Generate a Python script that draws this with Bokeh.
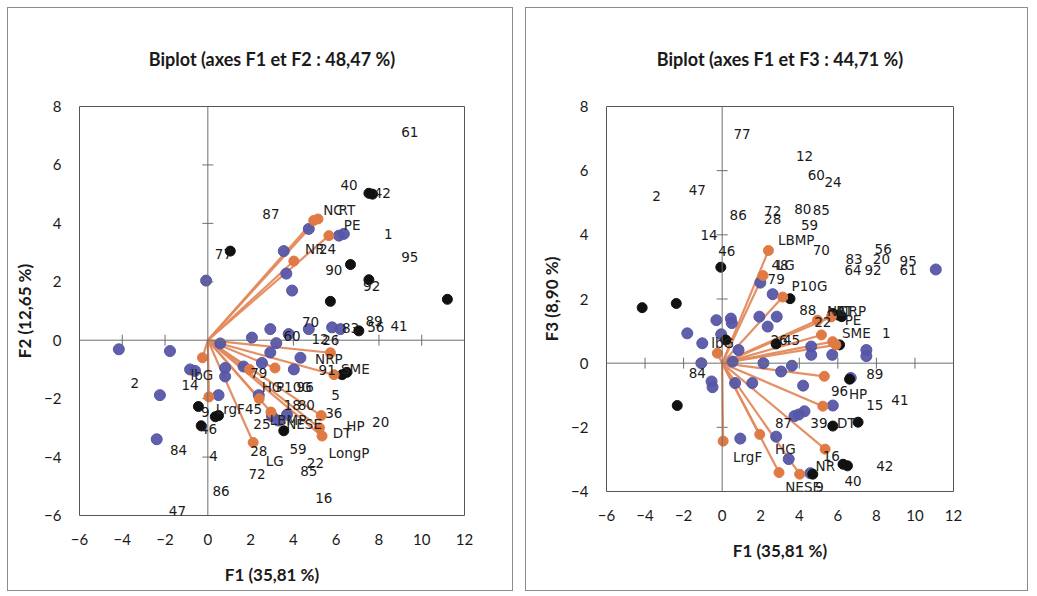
import math
from bokeh.plotting import figure
from bokeh.layouts import row
from bokeh.models import ColumnDataSource, FixedTicker, Range1d, LabelSet, Span
from bokeh.embed import file_html
from bokeh.resources import INLINE
from bokeh.core.properties import value

# ---------------- data ----------------
x_ticks = [-6, -4, -2, 0, 2, 4, 6, 8, 10, 12]
y_ticks_f2 = [-6, -4, -2, 0, 2, 4, 6, 8]
y_ticks_f3 = [-4, -2, 0, 2, 4, 6, 8]

# variables (arrows): coordinates on F1, F2, F3
var_names = ["NC", "RT", "PE", "NR", "NRP", "SME", "lbG", "LrgF", "LG", "LBMP",
             "P10G", "HG", "NESE", "HP", "DT", "LongP"]
var_f1 = [4.95, 5.15, 5.66, 4.02, 5.73, 5.90, -0.25, 0.05, 2.12, 2.40,
          3.14, 1.95, 2.95, 5.30, 5.22, 5.34]
var_f2 = [4.10, 4.15, 3.58, 2.71, -0.43, -1.18, -0.60, -1.94, -3.50, -2.00,
          -0.95, -1.00, -2.46, -2.58, -3.00, -3.28]
var_f3 = [1.34, 0.88, 1.44, -3.46, 0.67, 0.57, 0.31, -2.43, 2.73, 3.51,
          2.06, -2.22, -3.41, -0.41, -1.34, -2.68]
# where the variable names are printed
var_lbl12_x = [5.85, 6.50, 6.75, 5.00, 5.66, 6.90, -0.28, 1.05, 3.13, 3.75,
               4.02, 3.00, 4.50, 6.90, 6.28, 6.60]
var_lbl12_y = [4.45, 4.45, 3.96, 3.11, -0.66, -1.00, -1.18, -2.35, -4.12, -2.72,
               -1.59, -1.59, -2.87, -2.93, -3.16, -3.86]
var_lbl13_x = [5.95, 6.35, 6.79, 5.35, 6.75, 6.96, 0.02, 1.32, 3.30, 3.84,
               4.53, 3.28, 4.20, 7.05, 6.44, float("nan")]
var_lbl13_y = [1.62, 1.62, 1.35, -3.20, 1.62, 0.95, 0.64, -2.91, 3.07, 3.84,
               2.42, -2.68, -3.85, -0.95, -1.88, float("nan")]

# observation labels, plane F1-F2
obs12_text = ["61", "40", "42", "87", "1", "95", "77", "24", "90", "92", "55",
              "70", "83", "89", "56", "41", "60", "12", "26", "91", "2", "14",
              "79", "96", "5", "36", "18", "80", "9", "46", "45", "25", "84",
              "28", "59", "22", "85", "72", "4", "86", "16", "47", "20"]
obs12_x = [9.44, 6.60, 8.16, 2.95, 8.44, 9.44, 0.73, 5.60, 5.89, 7.66, 13.08,
           4.80, 6.67, 7.77, 7.85, 8.94, 3.94, 5.25, 5.75, 5.58, -3.41, -0.83,
           2.38, 4.55, 5.97, 5.89, 3.95, 4.60, -0.12, 0.03, 2.14, 2.53, -1.37,
           2.38, 4.22, 5.03, 4.72, 2.30, 0.27, 0.62, 5.42, -1.42, 8.08]
obs12_y = [7.12, 5.32, 5.05, 4.33, 3.63, 2.86, 2.94, 3.12, 2.42, 1.86, 1.99,
           0.62, 0.41, 0.67, 0.45, 0.48, 0.15, 0.03, 0.00, -1.01, -1.45, -1.53,
           -1.13, -1.60, -1.88, -2.50, -2.23, -2.23, -2.46, -3.04, -2.35, -2.87, -3.77,
           -3.80, -3.74, -4.20, -4.49, -4.59, -3.97, -5.17, -5.40, -5.83, -2.81]

# observation labels, plane F1-F3
obs13_text = ["77", "55", "12", "60", "24", "2", "47", "86", "72", "28", "80",
              "85", "59", "14", "46", "70", "83", "56", "20", "64", "92", "95",
              "61", "48", "79", "88", "22", "1", "26", "45", "84", "89", "96",
              "15", "41", "87", "39", "16", "42", "40", "9"]
obs13_x = [1.03, 13.30, 4.27, 4.88, 5.75, -3.40, -1.29, 0.83, 2.62, 2.62, 4.18,
           5.14, 4.53, -0.68, 0.24, 5.14, 6.84, 8.35, 8.26, 6.79, 7.83, 9.65,
           9.65, 3.00, 2.80, 4.44, 5.22, 8.52, 2.95, 3.60, -1.29, 7.92, 6.09,
           7.92, 9.22, 3.18, 5.02, 5.66, 8.44, 6.79, 5.05]
obs13_y = [7.14, 7.05, 6.45, 5.88, 5.65, 5.21, 5.39, 4.61, 4.75, 4.49, 4.82,
           4.77, 4.31, 3.99, 3.51, 3.53, 3.25, 3.56, 3.25, 2.89, 2.89, 3.20,
           2.89, 3.07, 2.61, 1.67, 1.29, 0.93, 0.72, 0.72, -0.31, -0.33, -0.88,
           -1.29, -1.14, -1.88, -1.86, -2.89, -3.20, -3.66, -3.85]

# observation points (blue = active, black = supplementary)
blue12_x = [-0.08, 3.55, 4.72, 6.13, 6.36, 3.67, 3.94, 5.81, 6.20, 2.92, 2.06,
            0.58, -4.16, -1.77, 2.92, 4.33, 4.02, 0.81, 1.67, 2.53, -0.83, -0.60,
            0.81, -2.24, -2.39, 0.50, 2.38, 3.78, 4.72, 3.00, 3.30, 3.70, 3.20]
blue12_y = [2.04, 3.05, 3.81, 3.58, 3.64, 2.28, 1.70, 0.44, 0.38, 0.38, 0.09,
            -0.11, -0.31, -0.37, -0.42, -0.60, -1.00, -0.95, -0.90, -0.78, -1.00, -1.05,
            -1.24, -1.88, -3.39, -1.88, -1.88, 0.21, 0.38, -2.60, -2.75, -2.55, -0.10]
black12_x = [7.53, 7.70, 1.05, 6.67, 7.53, 5.73, 11.20, 7.06, 6.28, 6.50,
             -0.44, -0.31, 0.50, 0.35, 3.55]
black12_y = [5.03, 5.00, 3.05, 2.59, 2.07, 1.33, 1.40, 0.32, -1.18, -1.10,
             -2.27, -2.93, -2.58, -2.62, -3.10]

blue13_x = [1.98, 2.62, 11.08, -0.30, 0.45, 0.50, 1.93, 2.83, 2.36, -1.81, -1.03,
            0.85, 0.54, 2.14, 3.06, 3.62, 4.62, 4.62, 5.71, 7.48, 7.48, -1.08,
            -0.55, -0.50, 0.67, 1.56, 4.20, 5.74, 6.67, 4.27, 3.97, 3.75, 0.94,
            2.80, 3.45, 4.57, -0.05]
blue13_y = [2.51, 2.15, 2.92, 1.34, 1.39, 1.25, 1.45, 1.45, 1.14, 0.93, 0.62,
            0.41, 0.05, 0.00, -0.26, -0.08, 0.52, 0.26, 0.26, 0.41, 0.22, 0.00,
            -0.57, -0.75, -0.62, -0.62, -0.70, -1.32, -0.46, -1.50, -1.60, -1.65, -2.35,
            -2.29, -2.99, -3.43, 0.90]
black13_x = [-0.07, -4.15, -2.38, 3.52, -2.33, 0.19, 2.80, 5.74, 7.05, 4.70,
             6.27, 6.50, 6.09, 6.61, 5.74, 6.00, 6.20]
black13_y = [2.99, 1.73, 1.86, 2.01, -1.32, 0.72, 0.60, -1.96, -1.84, -3.46,
             -3.15, -3.20, 0.57, -0.50, 1.55, 1.50, 1.45]

# ---------------- styles ----------------
BLUE = "#5656a6"
BLACK = "#111111"
ORANGE_LINE = "#e4895c"
ORANGE_DOT = "#e07a45"
AXIS_GREY = "#6e6e6e"
BOX_GREY = "#555555"
LBL_FONT = "DejaVu Sans"
UI_FONT = "Lato"
X_LO, X_HI = -6, 12


def make_panel(title, ylabel, yvals, ylbl_x, ylbl_y, y_lo, y_hi, y_ticks,
               o_text, o_x, o_y, b_x, b_y, k_x, k_y, geom):
    (fw, fh, bl, br, bt, bb, margin) = geom
    p = figure(frame_width=fw, frame_height=fh,
               min_border_left=bl, min_border_right=br,
               min_border_top=bt, min_border_bottom=bb,
               x_range=Range1d(X_LO, X_HI), y_range=Range1d(y_lo, y_hi),
               output_backend="svg", toolbar_location=None,
               margin=margin)
    p.styles = {"border": "1px solid #8c8c8c"}
    p.grid.visible = False
    p.outline_line_color = BOX_GREY
    p.outline_line_width = 1
    p.outline_line_alpha = 1
    p.background_fill_color = "white"
    p.border_fill_color = "white"

    p.title.text = title
    p.title.align = "center"
    p.title.text_font = UI_FONT
    p.title.text_font_size = "18px"
    p.title.text_font_style = "bold"
    p.title.text_color = "#1a1a1a"
    p.title.standoff = 74

    for ax in (p.xaxis, p.yaxis):
        ax.axis_line_color = None
        ax.major_tick_line_color = None
        ax.minor_tick_line_color = None
        ax.major_tick_out = 0
        ax.major_tick_in = 0
        ax.minor_tick_out = 0
        ax.minor_tick_in = 0
        ax.major_label_text_font = UI_FONT
        ax.major_label_text_font_size = "15px"
        ax.major_label_text_color = "#1a1a1a"
        ax.axis_label_text_font = UI_FONT
        ax.axis_label_text_font_size = "17px"
        ax.axis_label_text_font_style = "bold"
        ax.axis_label_text_color = "#1a1a1a"
    p.xaxis.ticker = FixedTicker(ticks=x_ticks)
    p.yaxis.ticker = FixedTicker(ticks=y_ticks)
    p.xaxis.axis_label = "F1 (35,81 %)"
    p.yaxis.axis_label = ylabel
    p.xaxis.major_label_standoff = 18
    p.yaxis.major_label_standoff = 18
    p.xaxis.axis_label_standoff = 16
    p.yaxis.axis_label_standoff = 6

    # zero lines with their tick marks
    p.add_layout(Span(location=0, dimension="height", line_color=AXIS_GREY, line_width=1))
    p.add_layout(Span(location=0, dimension="width", line_color=AXIS_GREY, line_width=1))
    xt = [t for t in x_ticks if t != 0 and X_LO < t < X_HI]
    yt = [t for t in y_ticks if t != 0 and y_lo < t < y_hi]
    p.scatter(xt, [0] * len(xt), marker="dash", size=11, angle=math.pi / 2,
              line_color=AXIS_GREY, line_width=1)
    p.scatter([0] * len(yt), yt, marker="dash", size=11,
              line_color=AXIS_GREY, line_width=1)

    # variable arrows
    vs = ColumnDataSource(dict(x0=[0] * len(var_f1), y0=[0] * len(var_f1),
                               x1=var_f1, y1=yvals))
    p.segment("x0", "y0", "x1", "y1", source=vs, line_color=ORANGE_LINE,
              line_width=2.2, line_alpha=0.95)

    # observations
    p.scatter(b_x, b_y, size=11, fill_color=BLUE, line_color=BLUE, fill_alpha=0.95)
    p.scatter(k_x, k_y, size=10, fill_color=BLACK, line_color=BLACK)
    p.scatter("x1", "y1", source=vs, size=10, fill_color=ORANGE_DOT, line_color=ORANGE_DOT)

    # labels
    osrc = ColumnDataSource(dict(x=o_x, y=o_y, t=o_text))
    p.add_layout(LabelSet(x="x", y="y", text="t", source=osrc,
                          text_font=value(LBL_FONT), text_font_size="13.5px",
                          text_color="#1a1a1a", text_align="center",
                          text_baseline="middle"))
    vsrc = ColumnDataSource(dict(x=ylbl_x, y=ylbl_y, t=var_names))
    p.add_layout(LabelSet(x="x", y="y", text="t", source=vsrc,
                          text_font=value(LBL_FONT), text_font_size="13.5px",
                          text_color="#222222", text_align="center",
                          text_baseline="middle"))
    return p


left = make_panel("Biplot (axes F1 et F2 : 48,47 %)", "F2 (12,65 %)", var_f2,
                  var_lbl12_x, var_lbl12_y, -6, 8, y_ticks_f2,
                  obs12_text, obs12_x, obs12_y, blue12_x, blue12_y, black12_x, black12_y,
                  (383, 407, 71, 50, 98, 77, (7, 0, 0, 7)))
right = make_panel("Biplot (axes F1 et F3 : 44,71 %)", "F3 (8,90 %)", var_f3,
                   var_lbl13_x, var_lbl13_y, -4, 8, y_ticks_f3,
                   obs13_text, obs13_x, obs13_y, blue13_x, blue13_y, black13_x, black13_y,
                   (345, 383, 80, 76, 98, 101, (7, 0, 0, 12)))

layout = row(left, right)
open("out.html", "w").write(file_html(layout, INLINE))
